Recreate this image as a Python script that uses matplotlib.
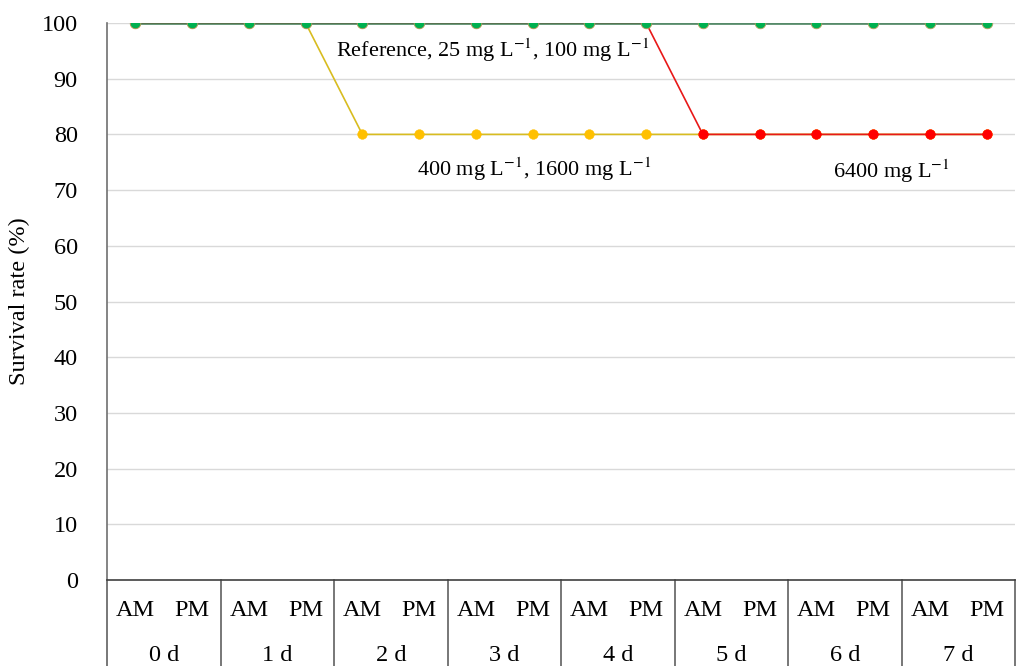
import matplotlib.pyplot as plt
from matplotlib.transforms import blended_transform_factory

plt.rcParams['font.family'] = ['Liberation Serif', 'DejaVu Serif']
plt.rcParams['mathtext.fontset'] = 'stix'

# data
days = ['0 d', '1 d', '2 d', '3 d', '4 d', '5 d', '6 d', '7 d']
halves = ['AM', 'PM']
reference = [100] * 16
conc_400 = [100, 100, 100, 100, 80, 80, 80, 80, 80, 80, 80, 80, 80, 80, 80, 80]
conc_6400 = [100, 100, 100, 100, 100, 100, 100, 100, 100, 100, 80, 80, 80, 80, 80, 80]
yticks = [0, 10, 20, 30, 40, 50, 60, 70, 80, 90, 100]

x = list(range(len(reference)))

fig = plt.figure(figsize=(10.16, 6.66), dpi=100)
ax = fig.add_axes([107 / 1016, 86 / 666, 908 / 1016, 557 / 666])

# series
ax.plot(x, conc_400, color='#D8BC20', lw=1.2, marker='o', ms=7,
        mfc='#FFC000', mec='#FFC000', mew=0.3, zorder=3)
ax.plot(x, conc_6400, color='#E81818', lw=1.2, marker='o', ms=7,
        mfc='#FF0000', mec='#FF0000', mew=0.3, zorder=4)
ax.plot(x, reference, color='#3F7D55', lw=2.0, alpha=0.85, zorder=5)
ax.plot(x, reference, ls='none', marker='o', ms=7.6,
        mfc='#00B050', mec='#B8A060', mew=0.6, zorder=6)

# annotations
ax.text(6.3, 95.1, r'Reference, 25 mg L$^{-1}$, 100 mg L$^{-1}$',
        ha='center', va='center', fontsize=16)
ax.text(7.03, 73.8, r'400 mg L$^{-1}$, 1600 mg L$^{-1}$',
        ha='center', va='center', fontsize=16)
ax.text(13.32, 73.4, r'6400 mg L$^{-1}$',
        ha='center', va='center', fontsize=16)

ax.set_xlim(-0.5, 15.5)
ax.set_ylim(0, 100)
ax.set_yticks(yticks)
ax.tick_params(axis='y', length=0, pad=21, labelsize=17.5)
ax.set_xticks([])
ax.grid(axis='y', color='#D9D9D9', lw=1)
ax.set_axisbelow(True)
ax.set_ylabel('Survival rate (%)', fontsize=17.5)
ax.yaxis.set_label_coords(-0.085, 0.5)

for s in ['top', 'right']:
    ax.spines[s].set_visible(False)
ax.spines['left'].set_color('#707070')
ax.spines['bottom'].set_color('#404040')
ax.spines['left'].set_linewidth(1.2)
ax.spines['bottom'].set_linewidth(1.2)

# multi-level category axis
trans = blended_transform_factory(ax.transData, ax.transAxes)
for i, d in enumerate(days):
    for j, h in enumerate(halves):
        ax.text(2 * i + j, -0.054, h, transform=trans, ha='center',
                va='center', fontsize=17.5, clip_on=False)
    ax.text(2 * i + 0.5, -0.136, d, transform=trans, ha='center',
            va='center', fontsize=17.5, clip_on=False)
for k in range(len(days) + 1):
    ax.plot([2 * k - 0.5, 2 * k - 0.5], [0, -0.16], transform=trans,
            color='#606060', lw=1.2, clip_on=False)

fig.savefig('out.png', dpi=100)
